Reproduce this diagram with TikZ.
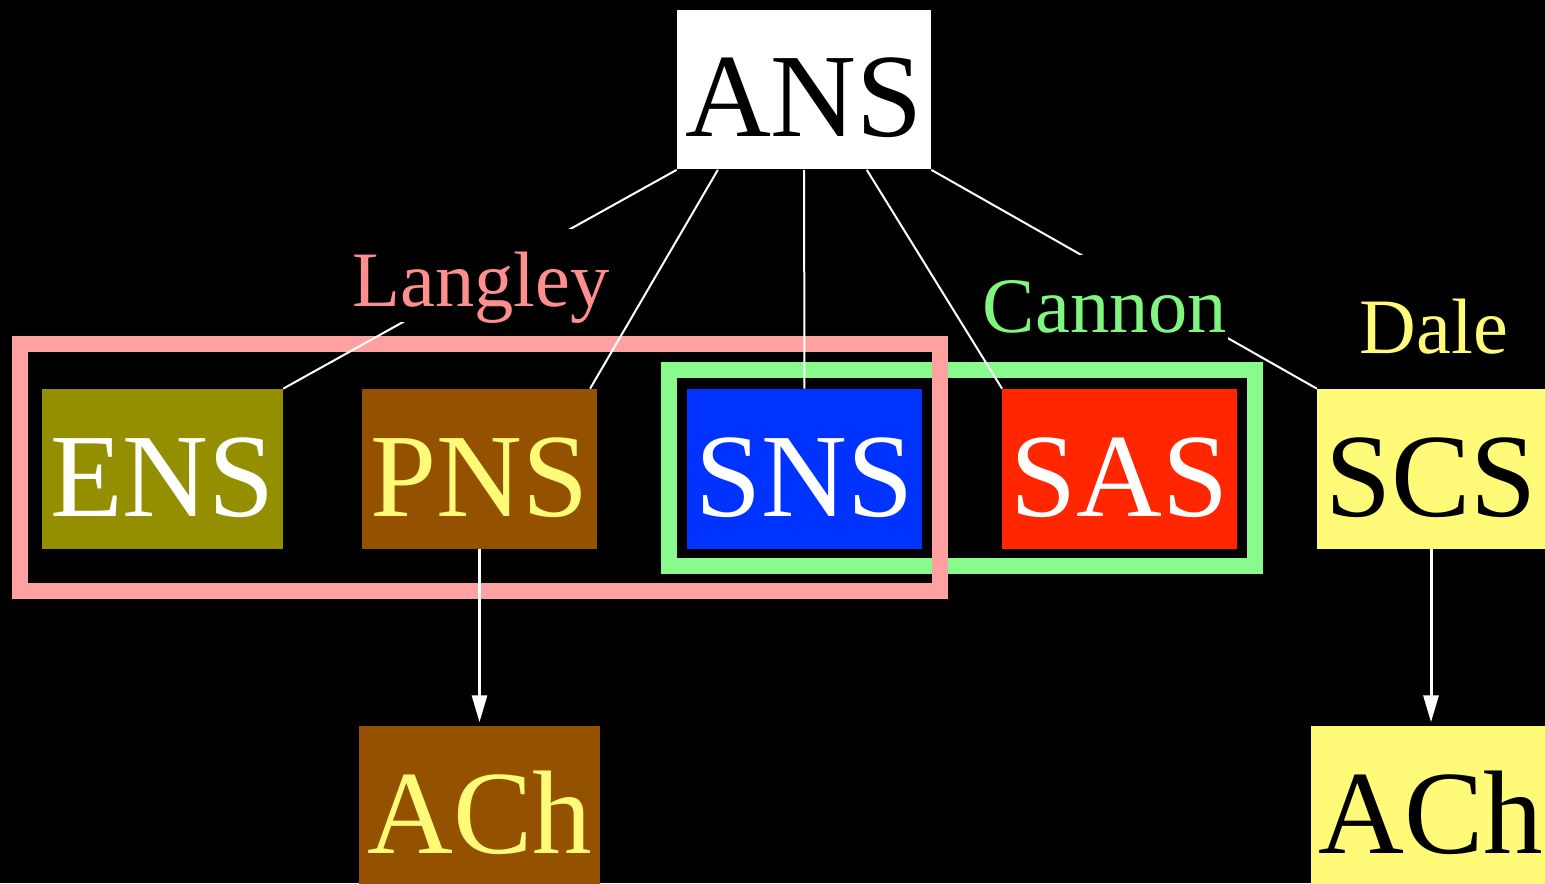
\documentclass[tikz,border=0pt]{standalone}
\usepackage{fontspec}
\setmainfont{Liberation Serif}
\usetikzlibrary{positioning, arrows.meta}

\definecolor{olivebox}{RGB}{148,143,0}
\definecolor{brownbox}{RGB}{148,82,0}
\definecolor{bluebox}{RGB}{0,51,255}
\definecolor{redbox}{RGB}{255,38,0}
\definecolor{yellowbox}{RGB}{255,251,120}
\definecolor{pinkframe}{RGB}{255,161,161}
\definecolor{pinktext}{RGB}{255,143,143}
\definecolor{greenframe}{RGB}{137,250,140}
\definecolor{greentext}{RGB}{128,245,128}

\begin{document}
\begin{tikzpicture}[
    x=0.02cm, y=-0.02cm,
    nodestyle/.style={
        minimum height=3.2cm, inner xsep=0.16cm, inner ysep=0pt,
        text height=1.9cm, text depth=0cm,
        font=\fontsize{67.7}{80}\selectfont
    },
    labelstyle/.style={
        fill=black, inner xsep=0.02cm, inner ysep=0pt, anchor=base,
        text height=1.54cm, text depth=0.32cm,
        font=\fontsize{44.7}{52}\selectfont
    },
    framestyle/.style={line width=0.32cm},
    linkstyle/.style={white, line width=0.04cm},
    arrowstyle/.style={white, line width=0.06cm, shorten >=0.06cm,
        -{Triangle[length=0.54cm, width=0.3cm]}}
]

% Background
\fill[black] (0,0) rectangle (1545,883);
\useasboundingbox (0,0) rectangle (1545,883);

% Top node
\node[nodestyle, fill=white, text=black] (ans) at (804,89.5) {ANS};

% Row of systems
\node[nodestyle, fill=olivebox, text=white] (ens) at (162.5,469) {ENS};
\node[nodestyle, fill=brownbox, text=yellowbox] (pns) at (479.5,469) {PNS};
\node[nodestyle, fill=bluebox, text=white] (sns) at (804.5,469) {SNS};
\node[nodestyle, fill=redbox, text=white] (sas) at (1119.5,469) {SAS};
\node[nodestyle, fill=yellowbox, text=black] (scs) at (1431,469) {SCS};

% Transmitters
\node[nodestyle, fill=brownbox, text=yellowbox, below=3.52cm of pns] (achP) {ACh};
\node[nodestyle, fill=yellowbox, text=black, below=3.52cm of scs] (achS) {ACh};

% Frames
\draw[framestyle, greenframe] (669,370) rectangle (1255,566);
\draw[framestyle, pinkframe] (20,344) rectangle (939.5,591);

% Links
\draw[linkstyle] (ans.south west) -- (ens.north east);
\draw[linkstyle] (ans.223) -- (pns.36);
\draw[linkstyle] (ans) -- (sns);
\draw[linkstyle] (ans.308) -- (sas.north west);
\draw[linkstyle] (ans.south east) -- (scs.north west);

% Arrows
\draw[arrowstyle] (pns) -- (achP);
\draw[arrowstyle] (scs) -- (achS);

% Labels
\node[labelstyle, text=pinktext] (langley) at (481,306) {Langley};
\node[labelstyle, text=greentext] (cannon) at (1105,332) {Cannon};
\node[labelstyle, text=yellowbox] (dale) at (1434,353) {Dale};

\end{tikzpicture}
\end{document}
